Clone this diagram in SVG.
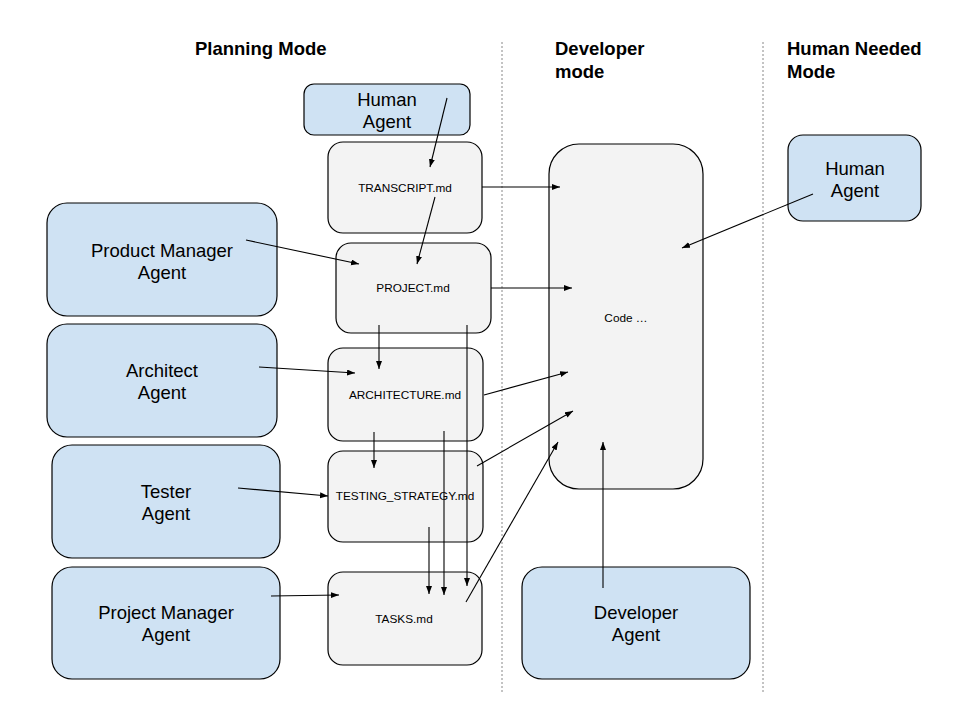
<svg xmlns="http://www.w3.org/2000/svg" width="960" height="720" viewBox="0 0 960 720">
<style>
.agent{fill:#cfe2f3;stroke:#000;stroke-width:1.2}
.doc{fill:#f3f3f3;stroke:#000;stroke-width:1.2}
.big{font-family:"Liberation Sans",Arial,sans-serif;font-size:18.5px;fill:#000;text-anchor:middle}
.small{font-family:"Liberation Sans",Arial,sans-serif;font-size:11.8px;fill:#000;text-anchor:middle}
.hdr{font-family:"Liberation Sans",Arial,sans-serif;font-size:18.5px;font-weight:bold;fill:#000}
.sep{stroke:#888;stroke-width:1;stroke-dasharray:2,2;fill:none}
.conn line{stroke:#000;stroke-width:1.1;fill:none;marker-end:url(#arr)}
</style>
<defs>
<marker id="arr" markerUnits="userSpaceOnUse" markerWidth="10" markerHeight="8" refX="8" refY="3" orient="auto">
<path d="M0,0 L8,3 L0,6 z" fill="#000"/>
</marker>
</defs>
<rect width="960" height="720" fill="#fff"/>

<g id="headers">
<text class="hdr" x="195" y="55">Planning Mode</text>
<text class="hdr" x="555" y="55">Developer</text>
<text class="hdr" x="555" y="78">mode</text>
<text class="hdr" x="787" y="55">Human Needed</text>
<text class="hdr" x="787" y="78">Mode</text>
</g>

<g id="separators">
<line class="sep" x1="502" y1="42" x2="502" y2="693"/>
<line class="sep" x1="763" y1="42" x2="763" y2="693"/>
</g>

<g id="human-top">
<rect class="agent" x="304" y="84" width="166" height="51" rx="10"/>
<text class="big" x="387" y="106">Human</text>
<text class="big" x="387" y="128">Agent</text>
</g>

<g id="transcript">
<rect class="doc" x="328" y="142" width="154" height="91" rx="15"/>
<text class="small" x="405" y="192">TRANSCRIPT.md</text>
</g>

<g id="project">
<rect class="doc" x="336" y="243" width="155" height="90" rx="15"/>
<text class="small" x="413" y="292">PROJECT.md</text>
</g>

<g id="architecture">
<rect class="doc" x="328" y="348" width="155" height="93" rx="15"/>
<text class="small" x="405" y="399">ARCHITECTURE.md</text>
</g>

<g id="testing">
<rect class="doc" x="328" y="451" width="155" height="91" rx="15"/>
<text class="small" x="405" y="500">TESTING_STRATEGY.md</text>
</g>

<g id="tasks">
<rect class="doc" x="328" y="572" width="154" height="93" rx="15"/>
<text class="small" x="404" y="623">TASKS.md</text>
</g>

<g id="product-manager">
<rect class="agent" x="47" y="203" width="230" height="113" rx="20"/>
<text class="big" x="162" y="257">Product Manager</text>
<text class="big" x="162" y="279">Agent</text>
</g>

<g id="architect">
<rect class="agent" x="47" y="324" width="230" height="113" rx="20"/>
<text class="big" x="162" y="377">Architect</text>
<text class="big" x="162" y="399">Agent</text>
</g>

<g id="tester">
<rect class="agent" x="52" y="445" width="228" height="113" rx="20"/>
<text class="big" x="166" y="498">Tester</text>
<text class="big" x="166" y="520">Agent</text>
</g>

<g id="project-manager">
<rect class="agent" x="52" y="567" width="228" height="112" rx="20"/>
<text class="big" x="166" y="619">Project Manager</text>
<text class="big" x="166" y="641">Agent</text>
</g>

<g id="code">
<rect class="doc" x="549" y="144" width="154" height="345" rx="30"/>
<text class="small" x="626" y="322">Code …</text>
</g>

<g id="human-right">
<rect class="agent" x="788" y="135" width="133" height="86" rx="15"/>
<text class="big" x="855" y="175">Human</text>
<text class="big" x="855" y="197">Agent</text>
</g>

<g id="developer">
<rect class="agent" x="522" y="567" width="228" height="112" rx="20"/>
<text class="big" x="636" y="619">Developer</text>
<text class="big" x="636" y="641">Agent</text>
</g>

<g id="connectors" class="conn">
<line x1="447" y1="98" x2="430" y2="167"/>
<line x1="435" y1="197" x2="417" y2="264"/>
<line x1="246" y1="240" x2="359" y2="264"/>
<line x1="482" y1="187" x2="560" y2="187"/>
<line x1="491" y1="288" x2="572" y2="288"/>
<line x1="379" y1="325" x2="379" y2="369"/>
<line x1="467" y1="325" x2="467" y2="586"/>
<line x1="259" y1="367" x2="355" y2="373"/>
<line x1="374" y1="432" x2="374" y2="468"/>
<line x1="444" y1="431" x2="444" y2="595"/>
<line x1="484" y1="395" x2="568" y2="372"/>
<line x1="238" y1="488" x2="328" y2="496"/>
<line x1="429" y1="527" x2="429" y2="594"/>
<line x1="477" y1="466" x2="573" y2="411"/>
<line x1="271" y1="596" x2="339" y2="595"/>
<line x1="466" y1="602" x2="558" y2="442"/>
<line x1="603" y1="588" x2="603" y2="442"/>
<line x1="813" y1="194" x2="682" y2="248"/>
</g>
</svg>
